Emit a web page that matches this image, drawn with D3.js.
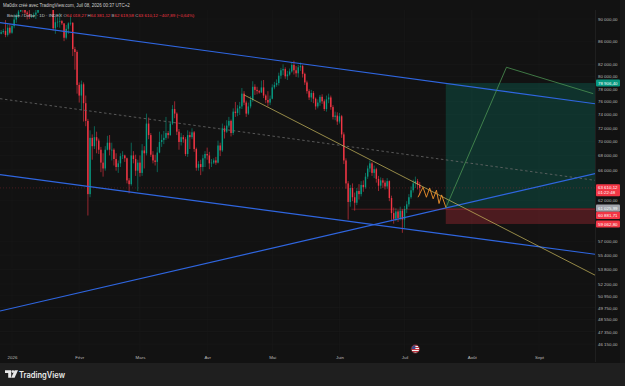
<!DOCTYPE html>
<html><head><meta charset="utf-8">
<script src="https://cdn.jsdelivr.net/npm/d3@7"></script>
<style>html,body{margin:0;padding:0;background:#121212;overflow:hidden}svg{display:block}</style>
</head><body><svg id="c" width="625" height="386"></svg>
<script>
// ---------- DATA (BTC/USD daily, prices in thousands of USD) ----------
const firstDay = "2025-12-27", lastDay = "2026-07-08";
const opens = [87.3,87.6,87.8,87.1,88.4,87.5,88.7,89.9,90.6,91.4,93.8,93.7,91.2,90.9,90.5,90.6,90.8,91.2,95.4,97.0,
95.6,95.5,95.1,93.6,92.6,88.3,89.4,89.5,89.6,89.2,86.6,88.2,89.2,89.3,84.6,84.1,78.6,76.9,78.7,75.7,
73.0,62.8,70.5,69.3,70.6,70.1,68.8,67.0,66.2,68.8,69.8,68.8,68.8,67.5,66.4,66.9,67.9,68.0,67.6,64.6,
64.1,68.0,67.5,65.9,67.0,65.6,68.7,68.3,72.6,70.9,68.1,67.3,67.1,68.4,69.9,70.2,70.5,71.2,70.9,72.6,
74.8,74.1,71.4,69.9,70.6,70.3,68.2,70.9,70.6,71.3,68.9,66.3,66.8,66.4,67.6,68.2,68.0,66.9,67.0,67.3,
67.0,69.4,68.7,71.9,71.4,72.3,73.0,71.2,74.4,74.2,74.9,75.2,77.2,75.8,74.1,75.2,76.2,78.3,77.8,77.6,
77.4,78.2,76.9,76.2,75.8,76.4,78.2,78.6,78.9,80.1,81.0,81.2,80.0,80.3,80.8,81.9,81.0,80.5,81.5,81.7,
80.4,79.0,77.6,76.6,77.3,76.4,75.2,75.8,76.7,76.0,74.8,76.3,76.6,75.1,73.6,73.8,72.9,73.7,71.0,67.3,
64.2,61.8,63.6,62.4,61.7,63.2,62.8,64.0,63.7,65.1,66.2,66.9,65.6,66.1,64.8,63.9,64.6,64.3,63.8,64.5,
62.3,60.4,59.7,60.6,59.8,60.7,59.6,60.9,61.5,62.4,63.3,64.2,64.5,64.01827];
const highs = [88.0,88.2,89.8,89.0,89.0,88.9,90.9,91.0,91.8,94.7,94.4,94.0,91.5,91.9,90.9,91.2,92.4,96.3,97.9,97.1,
95.9,95.6,95.5,93.6,92.8,90.4,90.3,91.1,89.8,89.2,88.9,89.4,90.5,89.4,85.0,84.4,79.0,79.3,79.0,76.9,
73.3,71.6,71.0,72.2,71.4,70.4,69.2,68.3,69.3,70.8,70.9,69.8,69.0,68.3,67.3,68.3,68.6,68.1,67.7,64.9,
69.8,68.6,68.1,67.4,68.0,69.6,69.3,74.1,73.5,71.2,68.6,68.1,69.2,71.4,71.0,71.5,73.6,71.5,72.9,75.4,
76.0,74.3,71.8,71.2,70.9,70.6,71.6,71.4,71.9,71.5,69.1,67.2,67.4,68.1,68.6,69.1,68.5,67.5,67.6,67.8,
70.1,69.8,72.6,72.3,73.1,73.6,73.2,74.9,75.9,75.4,75.9,78.1,77.6,76.1,75.8,76.8,79.2,78.7,78.3,77.8,
79.3,79.4,77.1,77.6,76.9,78.7,79.1,79.5,80.6,81.4,82.0,81.5,80.9,81.3,82.4,82.6,81.7,81.9,82.3,81.9,
80.6,79.3,77.9,77.8,77.6,76.6,76.3,77.0,77.1,76.3,76.9,77.2,76.9,75.4,74.4,74.3,74.2,73.9,71.3,67.6,
64.5,64.0,64.2,63.0,63.6,64.1,64.5,64.6,65.6,66.6,67.3,67.1,66.6,66.3,65.2,65.0,64.9,64.6,64.9,64.6,
62.6,61.1,61.0,60.8,61.2,60.9,61.3,61.9,62.8,63.8,64.7,65.1,64.8,64.38112];
const lows = [87.2,87.3,86.7,86.8,87.2,87.3,88.3,89.3,90.2,91.3,91.2,90.9,89.9,90.0,90.2,90.2,90.0,91.1,94.5,94.8,
94.3,94.9,93.4,91.9,87.9,87.3,88.5,88.4,88.9,86.0,86.3,87.3,88.8,83.4,81.1,77.2,75.8,74.6,72.9,72.2,
60.1,62.4,67.4,68.9,68.3,68.2,65.7,65.1,65.9,68.7,68.0,67.3,66.6,65.9,65.6,66.4,67.5,67.1,64.2,62.9,
63.9,66.9,65.2,63.2,65.1,65.2,66.2,68.0,70.3,67.8,66.9,66.6,65.7,68.3,69.2,69.6,70.2,70.4,70.8,72.4,
73.4,70.9,68.8,69.4,69.8,67.9,67.8,68.9,70.3,68.5,65.9,65.9,65.3,65.8,66.4,67.4,66.1,66.4,66.8,66.7,
66.9,67.9,68.5,70.4,71.2,72.0,70.7,70.9,73.6,73.7,73.9,74.8,75.4,73.6,73.9,74.9,75.9,77.0,77.1,77.2,
77.3,76.5,75.7,75.2,75.4,76.3,77.9,78.3,78.5,79.6,80.2,79.6,79.4,80.1,80.6,80.3,79.9,79.8,80.9,79.8,
78.6,77.2,76.2,75.9,75.7,74.7,74.9,75.3,75.6,74.5,74.4,75.7,74.7,73.2,73.1,72.4,72.6,70.5,66.8,63.5,
59.6,61.2,61.9,60.7,61.4,62.1,62.5,63.1,63.5,64.8,65.7,65.2,64.9,64.3,63.2,63.5,63.6,63.4,63.5,61.9,
59.4,59.1,59.4,59.3,59.5,58.0,58.6,60.4,61.2,62.2,63.0,63.6,63.4,62.61958];
const closes = [87.6,87.8,87.1,88.4,87.5,88.7,89.9,90.6,91.4,93.8,93.7,91.2,90.9,90.5,90.6,90.8,91.2,95.4,97.0,95.6,
95.5,95.1,93.6,92.6,88.3,89.4,89.5,89.6,89.2,86.6,88.2,89.2,89.3,84.6,84.1,78.6,76.9,78.7,75.7,73.0,
62.8,70.5,69.3,70.6,70.1,68.8,67.0,66.2,68.8,69.8,68.8,68.8,67.5,66.4,66.9,67.9,68.0,67.6,64.6,64.1,
68.0,67.5,65.9,67.0,65.6,68.7,68.3,72.6,70.9,68.1,67.3,67.1,68.4,69.9,70.2,70.5,71.2,70.9,72.6,74.8,
74.1,71.4,69.9,70.6,70.3,68.2,70.9,70.6,71.3,68.9,66.3,66.8,66.4,67.6,68.2,68.0,66.9,67.0,67.3,67.0,
69.4,68.7,71.9,71.4,72.3,73.0,71.2,74.4,74.2,74.9,75.2,77.2,75.8,74.1,75.2,76.2,78.3,77.8,77.6,77.4,
78.2,76.9,76.2,75.8,76.4,78.2,78.6,78.9,80.1,81.0,81.2,80.0,80.3,80.8,81.9,81.0,80.5,81.5,81.7,80.4,
79.0,77.6,76.6,77.3,76.4,75.2,75.8,76.7,76.0,74.8,76.3,76.6,75.1,73.6,73.8,72.9,73.7,71.0,67.3,64.2,
61.8,63.6,62.4,61.7,63.2,62.8,64.0,63.7,65.1,66.2,66.9,65.6,66.1,64.8,63.9,64.6,64.3,63.8,64.5,62.3,
60.4,59.7,60.6,59.8,60.7,59.6,60.9,61.5,62.4,63.3,64.2,64.5,64.01827,63.61012];

const monthTicks = ["2026-01-01","2026-02-01","2026-03-01","2026-04-01","2026-05-01","2026-06-01","2026-07-01","2026-08-01","2026-09-01"];
const monthLabels = ["2026","Févr","Mars","Avr","Mai","Juin","Juil","Août","Sept"];
const priceTicks = [90000,86000,82000,80000,78000,76000,74000,72000,70000,68000,66000,62000,57000,55400,53800,52200,50950,49750,48550,47350,46150];

// drawings: [date, price]
const upperChannel = [["2025-12-29",89200],["2026-09-25",75700]];
const lowerChannel = [["2025-12-28",65300],["2026-09-26",55530]];
const risingLine   = [["2025-12-28",49470],["2026-09-26",65450]];
const midDashed    = [["2025-12-29",76290],["2026-09-26",64640]];
const yellowRay    = [["2026-04-18",77000],["2026-09-26",53270]];
const greenPath    = [["2026-07-20",61026],["2026-08-17",81500],["2026-09-26",77200]];
const zigzagDates  = ["2026-07-07T05:00","2026-07-09T12:00","2026-07-11T02:00","2026-07-12T14:00","2026-07-14T05:00","2026-07-15T17:00","2026-07-16T22:00","2026-07-18T02:00","2026-07-20T02:00"];
const zigzagPrices = [62.4,63.7,62.4,63.6,62.2,63.3,61.6,62.7,61.1];
const positionStart = "2026-07-20", positionEnd = "2026-10-20";
const takeProfit = 78906.40, entryPrice = 61025.99, stopLoss = 59062.80;
const hLineStart = "2026-06-06T12:00", hLinePrice = 60881.71;
const lastPrice = 63610.12, countdown = "01:22:48";

const headerText = "Ma0dix créé avec TradingView.com, Juil 08, 2026 00:37 UTC+2";
const legendTitle = "Bitcoin / Dollar · 1D · INDEX";
const legendKeys = ["O","H","B","C"];
const legendVals = ["64 018,27","64 381,12","62 619,58","63 610,12"];
const legendChange = "−407,89 (−0,64%)";

// ---------- CHART ----------
const svg = d3.select("#c");
const W = 625, H = 386;
const PL = 0, PR = 595, PT = 10, PB = 352;
const FONT = "'Liberation Sans', Arial, sans-serif";
const parse = s => new Date(s.length > 10 ? s : s + "T00:00:00");
const dates = d3.timeDay.range(parse(firstDay), d3.timeDay.offset(parse(lastDay), 1));
const candles = dates.map((d,i) => ({d, o:opens[i]*1000, h:highs[i]*1000, l:lows[i]*1000, c:closes[i]*1000}));

const x = d3.scaleTime().domain([parse("2026-01-01"), parse("2026-09-01")]).range([12, 539]);
const y = d3.scaleLog().domain([45590, 91680]).range([350, 10]);

svg.append("rect").attr("width", W).attr("height", H).attr("fill", "#121212");
svg.append("rect").attr("x", 620).attr("y", 0).attr("width", 5).attr("height", 363).attr("fill", "#181818");

const defs = svg.append("defs");
defs.append("clipPath").attr("id","plot").append("rect").attr("x",PL).attr("y",PT).attr("width",PR-PL).attr("height",PB-PT);
const plot = svg.append("g").attr("clip-path","url(#plot)");

// faint grid
plot.append("g").selectAll("line").data(monthTicks).join("line")
  .attr("x1", d=>x(parse(d))).attr("x2", d=>x(parse(d))).attr("y1",PT).attr("y2",PB)
  .attr("stroke","#191919").attr("stroke-width",0.6);
plot.append("g").selectAll("line").data(priceTicks).join("line")
  .attr("x1",PL).attr("x2",PR).attr("y1",d=>y(d)).attr("y2",d=>y(d))
  .attr("stroke","#191919").attr("stroke-width",0.6);

// position boxes
const bx0 = x(parse(positionStart)), bx1 = x(parse(positionEnd));
plot.append("rect").attr("x",bx0).attr("width",bx1-bx0).attr("y",y(takeProfit)).attr("height",y(entryPrice)-y(takeProfit))
  .attr("fill","rgba(8,153,129,0.24)");
plot.append("rect").attr("x",bx0).attr("width",bx1-bx0).attr("y",y(entryPrice)).attr("height",y(stopLoss)-y(entryPrice))
  .attr("fill","rgba(242,54,69,0.26)");

// last price dotted line
plot.append("line").attr("x1",PL).attr("x2",PR).attr("y1",y(lastPrice)).attr("y2",y(lastPrice))
  .attr("stroke","#f23645").attr("stroke-opacity",0.35).attr("stroke-width",0.7).attr("stroke-dasharray","1,2");

// candles
const bw = 1.4;
const cg = plot.append("g");
cg.selectAll("line").data(candles).join("line")
  .attr("x1", d=>x(d.d)).attr("x2", d=>x(d.d)).attr("y1", d=>y(d.h)).attr("y2", d=>y(d.l))
  .attr("stroke", d=> d.c>=d.o ? "#089981" : "#f23645").attr("stroke-width",0.6);
cg.selectAll("rect").data(candles).join("rect")
  .attr("x", d=>x(d.d)-bw/2).attr("width", bw)
  .attr("y", d=>y(Math.max(d.o,d.c))).attr("height", d=>Math.max(0.7, Math.abs(y(d.o)-y(d.c))))
  .attr("fill", d=> d.c>=d.o ? "#089981" : "#f23645");

// lines
function extended(a, b, left, right){
  let x1=x(parse(a[0])), y1=y(a[1]), x2=x(parse(b[0])), y2=y(b[1]);
  const m=(y2-y1)/(x2-x1);
  if(left){ y1=y1+m*(PL-x1); x1=PL; }
  if(right){ y2=y2+m*(PR+5-x2); x2=PR+5; }
  return [[x1,y1],[x2,y2]];
}
const line = d3.line();
function drawSeg(pts, color, w, dash){
  const p = plot.append("path").attr("d", line(pts)).attr("fill","none").attr("stroke",color).attr("stroke-width",w);
  if(dash) p.attr("stroke-dasharray",dash);
}
drawSeg(extended(midDashed[0], midDashed[1], true, true), "#6a6a6a", 0.8, "2.5,2.5");
drawSeg(extended(upperChannel[0], upperChannel[1], true, true), "#2f66e0", 1.2);
drawSeg(extended(lowerChannel[0], lowerChannel[1], true, true), "#2f66e0", 1.2);
drawSeg(extended(risingLine[0], risingLine[1], true, true), "#2f66e0", 1.2);
drawSeg(extended(yellowRay[0], yellowRay[1], false, true), "#c2b25a", 0.75);
drawSeg(greenPath.map(p=>[x(parse(p[0])), y(p[1])]), "#4f9a55", 0.75);
drawSeg([[x(parse(hLineStart)), y(hLinePrice)],[PR+5, y(hLinePrice)]], "rgba(242,54,69,0.45)", 0.7);
drawSeg(zigzagDates.map((d,i)=>[x(parse(d)), y(zigzagPrices[i]*1000)]), "#f0922b", 0.9);

// US flag event marker
const fx = x(parse("2026-07-06")), fy = 349;
const fl = svg.append("g");
defs.append("clipPath").attr("id","flag").append("circle").attr("cx",fx).attr("cy",fy).attr("r",3.8);
const fg = fl.append("g").attr("clip-path","url(#flag)");
fg.append("rect").attr("x",fx-4).attr("y",fy-4).attr("width",8).attr("height",8).attr("fill","#f4f4f4");
[0,2,4,6].forEach(k=> fg.append("rect").attr("x",fx-4).attr("y",fy-4+k).attr("width",8).attr("height",1).attr("fill","#c8313d"));
fg.append("rect").attr("x",fx-4).attr("y",fy-4).attr("width",4).attr("height",4).attr("fill","#3c4a8c");
fl.append("circle").attr("cx",fx).attr("cy",fy).attr("r",4.2).attr("fill","none").attr("stroke","#7a2a30").attr("stroke-width",0.8);

// price axis
svg.append("line").attr("x1",PR+0.5).attr("x2",PR+0.5).attr("y1",PT).attr("y2",362).attr("stroke","#1f1f1f");
const fmt = d3.formatLocale({decimal:",", thousands:" ", grouping:[3], currency:["",""]}).format(",.2f");
const yAxis = d3.axisRight(y).tickValues(priceTicks).tickSize(0).tickPadding(0).tickFormat(fmt);
const ya = svg.append("g").attr("transform",`translate(${PR+3},0)`).call(yAxis);
ya.select(".domain").remove();
ya.selectAll("text").attr("font-family",FONT).attr("font-size",4.4).attr("fill","#b9b9b9").attr("dy","0.35em");

// time axis
const xAxis = d3.axisBottom(x).tickValues(monthTicks.map(parse)).tickSize(0).tickPadding(0)
  .tickFormat((d,i)=>monthLabels[i]);
const xa = svg.append("g").attr("transform","translate(0,355.5)").call(xAxis);
xa.select(".domain").remove();
xa.selectAll("text").attr("font-family",FONT).attr("font-size",4.4).attr("fill","#b9b9b9");

// axis price labels with collision avoidance
const labels = [
  {v:takeProfit, bg:"#089981", fg:"#fff"},
  {v:lastPrice, bg:"#f23645", fg:"#fff", sub:countdown},
  {v:entryPrice, bg:"#a0a3ab", fg:"#fff"},
  {v:hLinePrice, bg:"#f23645", fg:"#fff"},
  {v:stopLoss, bg:"#f23645", fg:"#fff"}
].map(l=>({...l, cy:y(l.v), h:l.sub?12:7.2}));
labels.sort((a,b)=>a.cy-b.cy);
let prevBottom = -Infinity;
labels.forEach(l=>{
  let top = l.cy - 3.6;
  if(top < prevBottom) top = prevBottom;
  l.top = top; prevBottom = top + l.h;
});
const lg = svg.append("g");
labels.forEach(l=>{
  lg.append("rect").attr("x",PR+1).attr("y",l.top).attr("width",24).attr("height",l.h).attr("rx",1).attr("fill",l.bg);
  lg.append("text").attr("x",PR+3).attr("y",l.top+3.6).attr("dy","0.35em").attr("font-family",FONT)
    .attr("font-size",4.4).attr("fill",l.fg).text(fmt(l.v));
  if(l.sub) lg.append("text").attr("x",PR+3).attr("y",l.top+8.4).attr("dy","0.35em").attr("font-family",FONT)
    .attr("font-size",4.4).attr("fill",l.fg).text(l.sub);
});

// header & legend
svg.append("text").attr("x",3).attr("y",6.6).attr("font-family",FONT).attr("font-size",4.5).attr("fill","#cfcfcf").text(headerText);
const lt = svg.append("text").attr("x",7).attr("y",17.4).attr("font-family",FONT).attr("font-size",4.4);
lt.append("tspan").attr("fill","#c9ccd4").text(legendTitle + "  ");
legendKeys.forEach((k,i)=>{
  lt.append("tspan").attr("fill","#b2b5be").text((i?" ":"") + k);
  lt.append("tspan").attr("fill","#f23645").text(legendVals[i]);
});
lt.append("tspan").attr("fill","#f23645").text(" " + legendChange);

// bottom bar
svg.append("rect").attr("x",0).attr("y",363).attr("width",W).attr("height",23).attr("fill","#1f1f1f");
const logo = svg.append("g").attr("fill","#e9e9e9");
logo.append("path").attr("d","M5 370.2 h6.2 v7.6 h-3 v-4.8 h-3.2 z");
logo.append("circle").attr("cx",12.9).attr("cy",371.6).attr("r",1.4);
logo.append("path").attr("d","M14.6 370.2 h3.4 l-3.4 7.6 h-3.4 z");
svg.append("text").attr("x",19).attr("y",377.6).attr("font-family","Inter, 'Liberation Sans', sans-serif")
  .attr("font-size",8.6).attr("font-weight",600).attr("fill","#e9e9e9")
  .attr("textLength",46).attr("lengthAdjust","spacingAndGlyphs").text("TradingView");
</script>
</body></html>
